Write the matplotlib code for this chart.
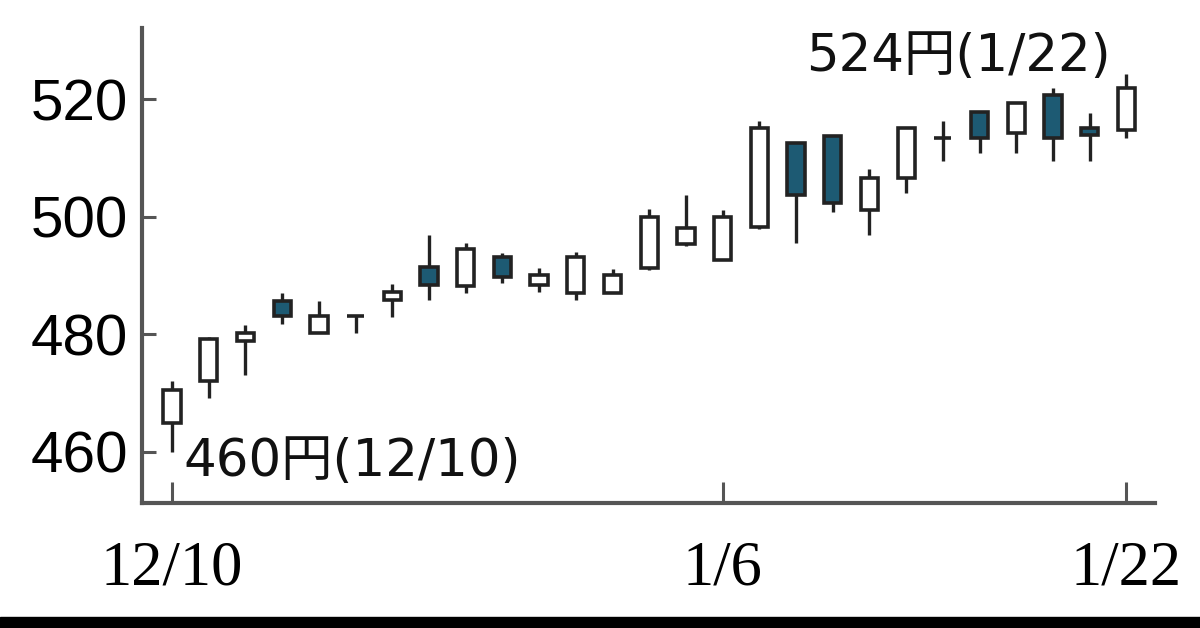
import matplotlib
matplotlib.use("Agg")
import matplotlib.pyplot as plt
from matplotlib.patches import Rectangle

# 日足 (12/10 - 1/22)
dates = ["12/10", "12/11", "12/12", "12/13", "12/16", "12/17", "12/18", "12/19",
         "12/20", "12/23", "12/24", "12/25", "12/26", "12/27", "12/30",
         "1/6", "1/7", "1/8", "1/9", "1/10", "1/14", "1/15", "1/16", "1/17",
         "1/20", "1/21", "1/22"]
opens = [465, 472, 478.8, 485.6, 480.2, 483.1, 485.8, 491.4, 488.2, 493.1, 488.4,
         487.0, 487.0, 491.3, 495.3, 492.6, 498.2, 512.5, 513.7, 501.1, 506.6,
         513.5, 517.8, 514.2, 520.7, 515.1, 514.7]
closes = [470.5, 479.2, 480.2, 483.1, 483.1, 483.1, 487.2, 488.4, 494.5, 489.7,
          490.1, 493.1, 490.1, 499.9, 498.1, 499.9, 515.1, 503.7, 502.3, 506.7,
          515.1, 513.5, 513.5, 519.3, 513.5, 513.9, 522.0]
highs = [472, 479.5, 481.6, 487.0, 485.6, 483.1, 488.5, 497.0, 495.5, 493.8, 491.3,
         494.0, 491.1, 501.3, 503.8, 501.1, 516.3, 512.7, 513.9, 508.1, 515.3,
         516.4, 518, 519.5, 521.9, 517.6, 524.4]
lows = [460, 469.2, 473.1, 481.7, 480.2, 480.2, 482.9, 485.8, 487.0, 488.7, 487.2,
        485.8, 487.0, 491, 495, 492.6, 498, 495.5, 500.8, 496.9, 504.0, 509.5,
        510.8, 510.8, 509.5, 509.5, 513.4]
tick_dates = ["12/10", "1/6", "1/22"]
yticks = [460, 480, 500, 520]

up_color = "white"
down_color = "#1d5a73"
edge = "#222222"

fig = plt.figure(figsize=(12, 6.28), dpi=100)
ax = fig.add_axes([0.1183, 0.199, 0.8442, 0.756])

x = list(range(len(dates)))
ax.vlines(x, lows, highs, color=edge, lw=2.4, zorder=2)
bottoms = [min(o, c) for o, c in zip(opens, closes)]
heights = [abs(c - o) for o, c in zip(opens, closes)]
colors = [up_color if c >= o else down_color for o, c in zip(opens, closes)]
ax.bar(x, heights, bottom=bottoms, width=0.47, color=colors,
       edgecolor=edge, linewidth=2.6, zorder=3)

ax.set_xlim(-0.82, 26.78)
ax.set_ylim(451.3, 532.1)

ax.set_yticks(yticks)
ax.set_yticklabels([str(v) for v in yticks], family=["Liberation Sans"], fontsize=42)
ax.set_xticks([dates.index(d) for d in tick_dates])
ax.set_xticklabels(tick_dates, family=["Liberation Serif"], fontsize=45)
ax.tick_params(axis="y", direction="in", length=10, width=2.2, color="#555555", pad=10)
ax.tick_params(axis="x", direction="in", length=15, width=2.2, color="#555555", pad=27)

for s in ["top", "right"]:
    ax.spines[s].set_visible(False)
for s in ["left", "bottom"]:
    ax.spines[s].set_color("#555555")
    ax.spines[s].set_linewidth(3)

# 最高値・最安値
i_hi = highs.index(max(highs))
i_lo = lows.index(min(lows))
ax.annotate(f"{round(max(highs))}円({dates[i_hi]})", xy=(i_hi, max(highs)),
            xytext=(-11.5, 2), textcoords="offset points", ha="right", va="baseline",
            fontsize=37, family=["DejaVu Sans", "Noto Sans CJK JP"], color="#111111")
ax.annotate(f"{round(min(lows))}円({dates[i_lo]})", xy=(i_lo, min(lows)),
            xytext=(8, -17), textcoords="offset points", ha="left", va="baseline",
            fontsize=37, family=["DejaVu Sans", "Noto Sans CJK JP"], color="#111111")

# 下端の黒帯
fig.patches.append(Rectangle((0, 0), 1, 11 / 628, transform=fig.transFigure,
                             color="black", zorder=10))

fig.savefig("out.png", dpi=100)
